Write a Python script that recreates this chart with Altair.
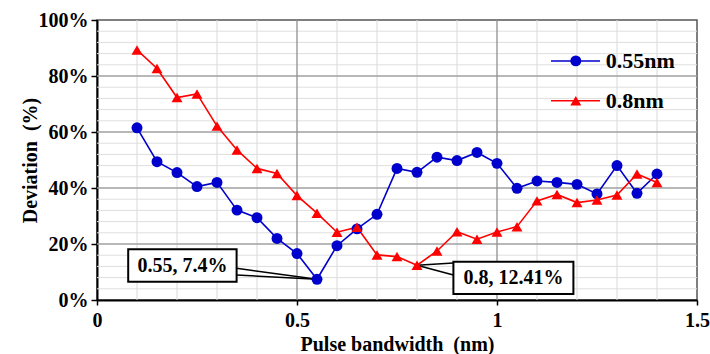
import altair as alt
import pandas as pd

# ---- data ----
bandwidth = [0.10, 0.15, 0.20, 0.25, 0.30, 0.35, 0.40, 0.45, 0.50, 0.55,
             0.60, 0.65, 0.70, 0.75, 0.80, 0.85, 0.90, 0.95, 1.00,
             1.05, 1.10, 1.15, 1.20, 1.25, 1.30, 1.35, 1.40]
dev_055 = [61.5, 49.4, 45.5, 40.5, 42.0, 32.1, 29.4, 22.0, 16.6, 7.4,
           19.4, 25.4, 30.6, 47.0, 45.6, 51.0, 49.8, 52.7, 48.8,
           39.9, 42.5, 42.0, 41.3, 37.9, 48.0, 38.1, 45.0]
dev_08 = [89.3, 82.7, 72.3, 73.6, 62.1, 53.6, 47.0, 45.2, 37.3, 31.0,
          24.2, 26.0, 16.1, 15.5, 12.41, 17.5, 24.4, 21.7, 24.3,
          26.2, 35.4, 37.7, 34.8, 35.7, 37.5, 45.0, 42.0]
series_names = ["0.55nm", "0.8nm"]
series_colors = ["#0000CC", "#FF0000"]
series_shapes = ["circle", "triangle-up"]

x_ticks = [0, 0.5, 1.0, 1.5]
y_ticks = [0, 0.2, 0.4, 0.6, 0.8, 1.0]
x_minor = [0.1, 0.2, 0.3, 0.4, 0.6, 0.7, 0.8, 0.9, 1.1, 1.2, 1.3, 1.4]
x_major = [0.5, 1.0]
y_minor = [0.04, 0.08, 0.12, 0.16, 0.24, 0.28, 0.32, 0.36, 0.44, 0.48, 0.52,
           0.56, 0.64, 0.68, 0.72, 0.76, 0.84, 0.88, 0.92, 0.96]
y_major = [0.2, 0.4, 0.6, 0.8]

ann_labels = ["0.55, 7.4%", "0.8, 12.41%"]
ann_px = [0.55, 0.80]
ann_py = [0.074, 0.1241]
ann_box_x1 = [0.078, 0.891]
ann_box_x2 = [0.349, 1.191]
ann_box_y1 = [0.065, 0.021]
ann_box_y2 = [0.181, 0.137]
ann_text_x = [0.2135, 1.041]
ann_text_y = [0.123, 0.079]
ann_lead_x = [0.349, 0.891]
ann_lead_y1 = [0.113, 0.132]
ann_lead_y2 = [0.089, 0.089]

leg_x1 = [1.135, 1.135]
leg_x2 = [1.2575, 1.2575]
leg_xm = [1.197, 1.197]
leg_xt = [1.272, 1.272]
leg_y = [0.854, 0.712]

# ---- tables ----
df = pd.DataFrame({
    "bw": bandwidth * 2,
    "dev": [v / 100 for v in dev_055 + dev_08],
    "series": [series_names[0]] * len(bandwidth) + [series_names[1]] * len(bandwidth),
})
ann = pd.DataFrame({
    "label": ann_labels, "px": ann_px, "py": ann_py,
    "bx1": ann_box_x1, "bx2": ann_box_x2, "by1": ann_box_y1, "by2": ann_box_y2,
    "tx": ann_text_x, "ty": ann_text_y,
    "lx": ann_lead_x, "ly1": ann_lead_y1, "ly2": ann_lead_y2,
})
leg = pd.DataFrame({"series": series_names, "x1": leg_x1, "x2": leg_x2,
                    "xm": leg_xm, "xt": leg_xt, "y": leg_y})

FONT = "'Liberation Serif', 'Times New Roman', serif"
xs = alt.Scale(domain=[0, 1.5], nice=False, zero=False)
ys = alt.Scale(domain=[0, 1], nice=False)
cs = alt.Scale(domain=series_names, range=series_colors)
ss = alt.Scale(domain=series_names, range=series_shapes)

x_axis = alt.Axis(values=x_ticks, format="~g", title="Pulse bandwidth\u00a0 (nm)",
                  labelFlush=False, labelOverlap=False, tickSize=5, labelPadding=5,
                  titleX=300, titleY=44, titleAlign="center", titleBaseline="middle")
y_axis = alt.Axis(values=y_ticks, format=".0%", title="Deviation\u00a0 (%)",
                  tickSize=6, labelPadding=3,
                  titleX=-67, titleY=140, titleAngle=270, titleAlign="center",
                  titleBaseline="middle")


def X(f):
    return alt.X(f, type="quantitative", scale=xs, axis=x_axis)


def Y(f):
    return alt.Y(f, type="quantitative", scale=ys, axis=y_axis)


def vrules(vals, color, w):
    return alt.Chart(pd.DataFrame({"v": vals})).mark_rule(color=color, strokeWidth=w).encode(
        x=X("v"))


def hrules(vals, color, w):
    return alt.Chart(pd.DataFrame({"v": vals})).mark_rule(color=color, strokeWidth=w).encode(
        y=Y("v"))


grid = alt.layer(
    vrules(x_minor, "#d9d9d9", 1),
    hrules(y_minor, "#dedede", 1),
    hrules(y_major, "#a0a0a0", 1.3),
    vrules(x_major, "#909090", 1.3),
)

base = alt.Chart(df)
lines = base.mark_line(strokeWidth=1.6).encode(
    x=X("bw"), y=Y("dev"),
    color=alt.Color("series:N", scale=cs, legend=None),
)
points = base.mark_point(filled=True, opacity=1, size=120).encode(
    x=X("bw"), y=Y("dev"),
    color=alt.Color("series:N", scale=cs, legend=None),
    shape=alt.Shape("series:N", scale=ss, legend=None),
)

a = alt.Chart(ann)
lead1 = a.mark_rule(color="black", strokeWidth=1.5).encode(
    x=X("lx"), y=Y("ly1"), x2="px:Q", y2="py:Q")
lead2 = a.mark_rule(color="black", strokeWidth=1.5).encode(
    x=X("lx"), y=Y("ly2"), x2="px:Q", y2="py:Q")
boxes = a.mark_rect(fill="white", stroke="black", strokeWidth=2).encode(
    x=X("bx1"), x2="bx2:Q", y=Y("by1"), y2="by2:Q")
texts = a.mark_text(font=FONT, fontWeight="bold", fontSize=20, color="black",
                    align="center", baseline="middle").encode(
    x=X("tx"), y=Y("ty"), text="label:N")

l = alt.Chart(leg)
leg_line = l.mark_rule(strokeWidth=1.5).encode(
    x=X("x1"), x2="x2:Q", y=Y("y"), color=alt.Color("series:N", scale=cs, legend=None))
leg_pt = l.mark_point(filled=True, opacity=1, size=120).encode(
    x=X("xm"), y=Y("y"), color=alt.Color("series:N", scale=cs, legend=None),
    shape=alt.Shape("series:N", scale=ss, legend=None))
leg_txt = l.mark_text(font=FONT, fontWeight="bold", fontSize=22, color="black",
                      align="left", baseline="middle").encode(
    x=X("xt"), y=Y("y"), text="series:N")

chart = alt.layer(
    grid, lead1, lead2, lines, points, boxes, texts, leg_line, leg_pt, leg_txt
).properties(
    width=600, height=280,
    autosize=alt.AutoSizeParams(type="none"),
    padding={"left": 97, "top": 20, "right": 13, "bottom": 54},
    background="white",
).configure_view(
    stroke="#555555", strokeWidth=1.5
).configure_axis(
    grid=False, zindex=1,
    domainColor="black", domainWidth=2,
    tickColor="black", tickWidth=1.5,
    labelFont=FONT, labelFontWeight="bold", labelFontSize=20, labelColor="black",
    titleFont=FONT, titleFontWeight="bold", titleFontSize=20, titleColor="black",
)

chart.save("out.html", embed_options={"renderer": "svg", "actions": False})
